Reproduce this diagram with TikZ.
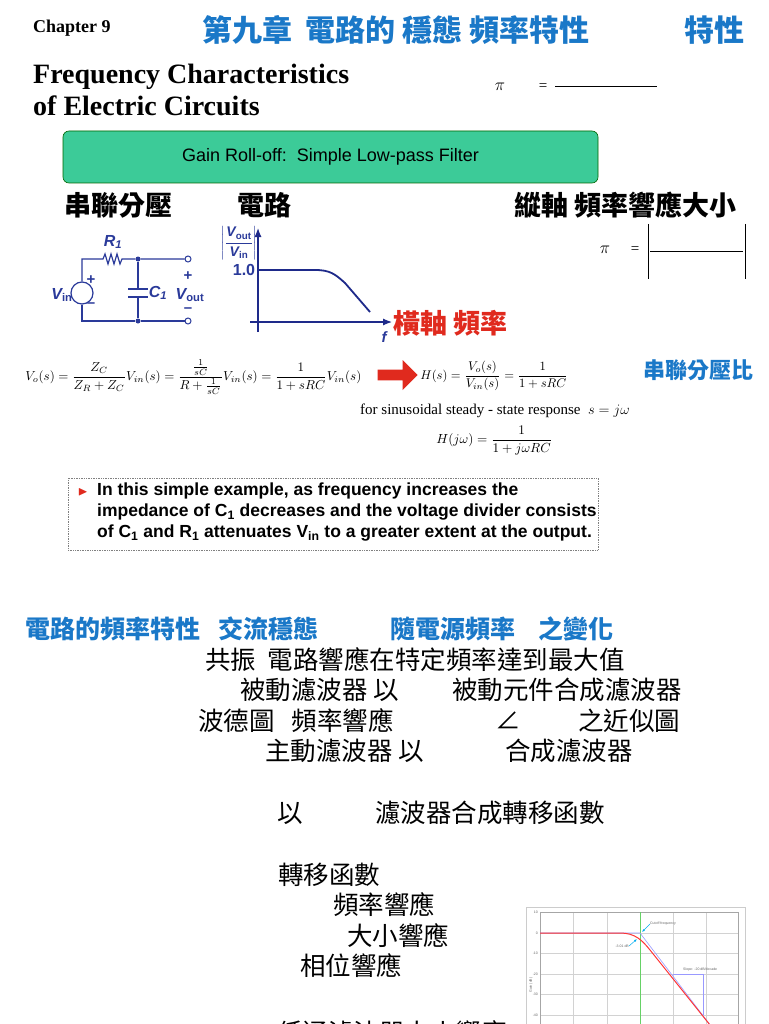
\documentclass[tikz,border=0pt]{standalone}
\usepackage{amsmath}
\usepackage{amssymb}
\usepackage{fontspec}
\setmainfont{Liberation Serif}
\setsansfont{Liberation Sans}
\newfontfamily\cjk{Noto Sans CJK TC}
\usetikzlibrary{arrows.meta, positioning, calc, shapes.arrows}
\definecolor{titleBlue}{HTML}{1A78C8}
\definecolor{boxGreen}{HTML}{3CCB98}
\definecolor{alertRed}{HTML}{E02A1E}
\definecolor{wireBlue}{HTML}{2A3A9A}
\definecolor{curveBlue}{HTML}{1E2A8A}
\tikzset{
    % Text
    cjkHead/.style={anchor=west, inner sep=0pt, font=\cjk\bfseries\fontsize{30}{33}\selectfont, text=titleBlue},
    cjkBlack/.style={anchor=west, inner sep=0pt, font=\cjk\bfseries\fontsize{27}{30}\selectfont},
    cjkLine/.style={anchor=west, inner sep=0pt, font=\cjk\fontsize{25.5}{28}\selectfont},
    cjkBlue/.style={anchor=west, inner sep=0pt, font=\cjk\bfseries\fontsize{25}{28}\selectfont, text=titleBlue},
    serifTitle/.style={anchor=west, inner sep=0pt, font=\bfseries\fontsize{28}{31}\selectfont},
    % Circuit
    wire/.style={draw=wireBlue, line width=1.2pt},
    dotNode/.style={circle, fill=wireBlue, inner sep=0pt, minimum size=5pt},
    termNode/.style={circle, draw=wireBlue, fill=white, line width=1pt, inner sep=0pt, minimum size=6pt},
    cirLabel/.style={inner sep=0pt, text=wireBlue, font=\sffamily\bfseries\fontsize{15}{16}\selectfont},
    cirItalic/.style={cirLabel, font=\sffamily\bfseries\itshape\fontsize{16}{17}\selectfont},
    % Plot
    axisArrow/.style={-{Latex[length=9pt,width=7pt]}, draw=curveBlue, line width=1.2pt},
    eqNode/.style={anchor=west, inner sep=0pt},
    chartGrid/.style={draw=gray!35, line width=0.4pt},
    chartText/.style={inner sep=0pt, font=\sffamily\fontsize{3.5}{4}\selectfont, text=gray!80!black}
}
\begin{document}
\begin{tikzpicture}[x=1pt, y=-1pt]
    \useasboundingbox[fill=white] (0,0) rectangle (768,1024);

    % Header
    \node[anchor=west, inner sep=0pt, font=\bfseries\fontsize{18}{20}\selectfont] (chap) at (33,28) {Chapter 9};
    \node[cjkHead] (head) at (202,30) {第九章\ \ 電路的 穩態 頻率特性};
    \node[cjkHead] (headB) at (684,30) {特性};
    \node[serifTitle] (titleA) at (33,77) {Frequency Characteristics};
    \node[serifTitle] (titleB) at (33,106) {of Electric Circuits};
    \node[inner sep=0pt, font=\itshape\fontsize{17}{20}\selectfont] (piA) at (500,87) {$\pi$};
    \node[inner sep=0pt, font=\fontsize{15}{18}\selectfont] (eqA) at (543,87) {=};
    \draw[line width=0.8pt] (555,86) -- (657,86);

    % Green banner
    \node[draw=green!40!black, fill=boxGreen, rounded corners=6pt, minimum width=535pt, minimum height=52pt,
        font=\sffamily\fontsize{18}{20}\selectfont, line width=0.6pt] (banner) at (330.5,157) {Gain Roll-off:\ \ Simple Low-pass Filter};

    \node[cjkBlack] (divider) at (64,205) {串聯分壓};
    \node[cjkBlack] (circ) at (237,205) {電路};
    \node[cjkBlack] (yAxisCap) at (514,205) {縱軸 頻率響應大小};

    % Circuit
    \coordinate (tl) at (82,259);
    \coordinate (bl) at (82,321);
    \node[dotNode] (nTop) at (138,259) {};
    \node[dotNode] (nBot) at (138,321) {};
    \node[termNode] (tTop) at (188,259) {};
    \node[termNode] (tBot) at (188,321) {};
    \node[circle, draw=wireBlue, line width=1.2pt, minimum size=22pt, inner sep=0pt] (src) at (82,293) {};
    \draw[wire] (src.north) -- (tl) -- (103,259)
        -- (105,254) -- (108,264) -- (111,254) -- (114,264) -- (117,254) -- (120,264) -- (122,259)
        -- (nTop) -- (tTop);
    \draw[wire] (src.south) -- (bl) -- (nBot) -- (tBot);
    \draw[wire] (nTop) -- (138,289) (nBot) -- (138,297);
    \draw[wire, line width=2pt] (128,289) -- (148,289) (128,297) -- (148,297);
    \node[cirItalic] (rLab) at (113,242) {R\textsubscript{1}};
    \node[cirItalic] (cLab) at (158,293) {C\textsubscript{1}};
    \node[cirItalic] (vinLab) at (62,295) {V\textsubscript{\upshape in}};
    \node[cirItalic] (voutLab) at (190,295) {V\textsubscript{\upshape out}};
    \node[cirLabel] at (91,280) {+};
    \node[cirLabel] at (91,305) {\textendash};
    \node[cirLabel] at (188,276) {+};
    \node[cirLabel] at (188,310) {\textendash};

    % Magnitude sketch
    \coordinate (yBase) at (258,332);
    \coordinate (yTop) at (258,228);
    \coordinate (xBase) at (250,322);
    \coordinate (xEnd) at (392,322);
    \draw[axisArrow] (yBase) -- (yTop);
    \draw[axisArrow] (xBase) -- (xEnd);
    \draw[draw=curveBlue, line width=1.8pt] (258,270) -- (315,270) .. controls (330,270) and (335,274) .. (345,283) -- (370,312);
    \node[cirLabel, font=\sffamily\bfseries\fontsize{16}{17}\selectfont] (oneLab) at (244,270) {1.0};
    \node[cirLabel, font=\sffamily\bfseries\itshape\fontsize{15}{16}\selectfont] (fLab) at (384,337) {f};
    \node[inner sep=0pt, text=wireBlue, font=\fontsize{14}{15}\selectfont] (ratio) at (239,243)
        {$\left|\dfrac{\textsf{\bfseries\itshape V\textsubscript{\upshape out}}}{\textsf{\bfseries\itshape V\textsubscript{\upshape in}}}\right|$};
    \node[cjkBlack, text=alertRed] (xAxisCap) at (393,323) {橫軸 頻率};

    % Right magnitude definition
    \node[inner sep=0pt, font=\itshape\fontsize{17}{20}\selectfont] (piB) at (605,250) {$\pi$};
    \node[inner sep=0pt, font=\fontsize{15}{18}\selectfont] (eqB) at (635,250) {=};
    \draw[line width=0.8pt] (648,224) -- (648,279) (745,224) -- (745,279) (650,251) -- (743,251);
    \node[cjkBlue, font=\cjk\bfseries\fontsize{22}{25}\selectfont] (ratioCap) at (643,370) {串聯分壓比};

    % Equations
    \node[eqNode, scale=1.3] (eqChain) at (25,377) {$V_o(s)=\dfrac{Z_C}{Z_R+Z_C}V_{in}(s)=\dfrac{\frac{1}{sC}}{R+\frac{1}{sC}}V_{in}(s)=\dfrac{1}{1+sRC}V_{in}(s)$};
    \node[single arrow, fill=alertRed, minimum height=40pt, minimum width=30pt, single arrow head extend=4pt,
        inner sep=2pt] (bigArrow) at (395,375) {};
    \node[eqNode, scale=1.26] (eqH) at (420,376) {$H(s)=\dfrac{V_o(s)}{V_{in}(s)}=\dfrac{1}{1+sRC}$};
    \node[anchor=west, inner sep=0pt, font=\fontsize{15}{18}\selectfont] (sinus) at (360,411) {for sinusoidal steady - state response\ \ $s=j\omega$};
    \node[eqNode, scale=1.32] (eqHj) at (436,441) {$H(j\omega)=\dfrac{1}{1+j\omega RC}$};

    % Explanation box
    \node[draw=gray, densely dotted, minimum width=530pt, minimum height=72pt, line width=0.7pt] (noteBox) at (333,514) {};
    \node[inner sep=0pt, text=alertRed, font=\fontsize{13}{14}\selectfont] (bullet) at (83,492) {$\blacktriangleright$};
    \node[anchor=north west, inner sep=0pt, align=left, font=\sffamily\bfseries\fontsize{17.5}{21}\selectfont] (noteText) at (97,483)
        {In this simple example, as frequency increases the\\
         impedance of C\textsubscript{1} decreases and the voltage divider consists\\
         of C\textsubscript{1} and R\textsubscript{1} attenuates V\textsubscript{in} to a greater extent at the output.};

    % Lower text
    \node[cjkBlue] (bA) at (25,629) {電路的頻率特性};
    \node[cjkBlue] (bB) at (218,629) {交流穩態};
    \node[cjkBlue] (bC) at (390,629) {隨電源頻率};
    \node[cjkBlue] (bD) at (538,629) {之變化};
    \node[cjkLine] (lA) at (205,660) {共振\ \ 電路響應在特定頻率達到最大值};
    \node[cjkLine] (lB) at (240,690) {被動濾波器 以};
    \node[cjkLine] (lC) at (452,690) {被動元件合成濾波器};
    \node[cjkLine] (lD) at (198,721) {波德圖\ \ \ 頻率響應};
    \node[cjkLine] (lE) at (495,721) {∠};
    \node[cjkLine] (lF) at (578,721) {之近似圖};
    \node[cjkLine] (lG) at (265,751) {主動濾波器 以};
    \node[cjkLine] (lH) at (505,751) {合成濾波器};
    \node[cjkLine] (lI) at (277,813) {以};
    \node[cjkLine] (lJ) at (375,813) {濾波器合成轉移函數};
    \node[cjkLine] (lK) at (278,875) {轉移函數};
    \node[cjkLine] (lL) at (333,905) {頻率響應};
    \node[cjkLine] (lM) at (347,936) {大小響應};
    \node[cjkLine] (lN) at (300,966) {相位響應};
    \node[cjkLine] (lO) at (277,1033) {低通濾波器大小響應};

    % Bode chart
    \begin{scope}
        \clip (0,0) rectangle (768,1024);
        \draw[gray!40, line width=0.6pt] (526,907) rectangle (745,1040);
        \foreach \gx in {540,573,607,640,673,706,738} {
            \draw[chartGrid] (\gx,912) -- (\gx,1040);
        }
        \foreach \gy in {912,933,953,974,994,1015} {
            \draw[chartGrid] (540,\gy) -- (738,\gy);
        }
        \draw[gray!70, line width=0.5pt] (540,912) rectangle (738,1040);
        \foreach \gy/\gl in {912/10,933/0,953/-10,974/-20,994/-30,1015/-40} {
            \node[chartText, anchor=east, inner sep=1pt] at (539,\gy) {\gl};
        }
        \draw[green!70!black!60, line width=0.8pt] (640,912) -- (640,1040);
        \draw[blue!40, line width=0.6pt] (540,933) -- (640,933) -- (714,1030);
        \draw[blue!40, line width=0.6pt] (673,974) -- (703,974) -- (703,1015);
        \draw[red!80, line width=1pt] (540,933) -- (620,933) .. controls (635,933) and (642,940) .. (650,950) -- (714,1030);
        \node[chartText, anchor=west] (cutLab) at (650,924) {Cutoff frequency};
        \node[chartText, anchor=east] (dbLab) at (629,946) {-3.01 dB};
        \node[chartText, anchor=west] (slopeLab) at (683,970) {Slope: -20 dB/decade};
        \node[chartText, rotate=90] (gainLab) at (531,985) {Gain (dB)};
        \draw[cyan, -{Latex[length=3pt]}, line width=0.5pt] (cutLab.west) -- (642,932);
        \draw[cyan, -{Latex[length=3pt]}, line width=0.5pt] (dbLab.east) -- (637,939);
    \end{scope}
\end{tikzpicture}
\end{document}
